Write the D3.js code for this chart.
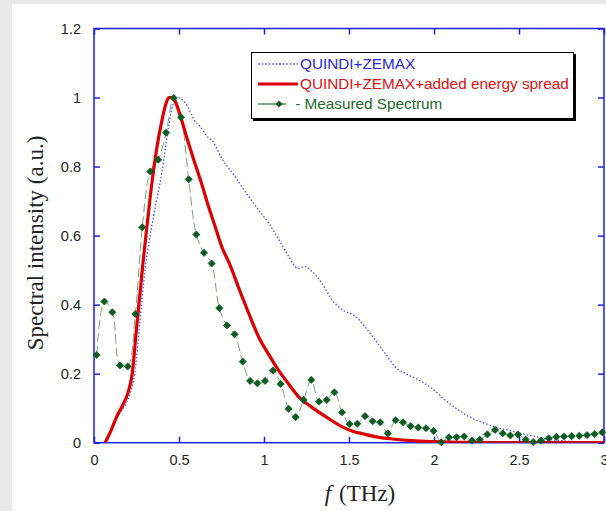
<!DOCTYPE html>
<html>
<head>
<meta charset="utf-8">
<script src="https://cdn.jsdelivr.net/npm/d3@7"></script>
<style>
  body { margin: 0; background: #e9e9e9; }
  svg { display: block; }
</style>
</head>
<body>
<svg id="chart" width="606" height="511"></svg>
<script>
// measured spectrum
const measuredF = [0.016, 0.061, 0.108, 0.153, 0.198, 0.243, 0.284, 0.331, 0.378, 0.424, 0.469, 0.512, 0.557, 0.602, 0.647, 0.692, 0.737, 0.782, 0.827, 0.875, 0.918, 0.961, 1.006, 1.053, 1.098, 1.145, 1.186, 1.233, 1.278, 1.324, 1.369, 1.414, 1.459, 1.504, 1.549, 1.594, 1.639, 1.684, 1.728, 1.774, 1.818, 1.863, 1.908, 1.953, 1.998, 2.043, 2.088, 2.133, 2.178, 2.224, 2.269, 2.314, 2.359, 2.404, 2.449, 2.494, 2.539, 2.584, 2.629, 2.675, 2.72, 2.765, 2.81, 2.855, 2.9, 2.945, 2.99];
const measuredI = [0.254, 0.409, 0.378, 0.224, 0.221, 0.373, 0.624, 0.786, 0.820, 0.898, 0.999, 0.943, 0.763, 0.603, 0.550, 0.519, 0.390, 0.340, 0.314, 0.235, 0.179, 0.172, 0.179, 0.209, 0.170, 0.098, 0.074, 0.124, 0.182, 0.119, 0.124, 0.146, 0.088, 0.054, 0.055, 0.077, 0.062, 0.059, 0.027, 0.065, 0.059, 0.048, 0.044, 0.042, 0.034, 0.001, 0.016, 0.016, 0.018, 0.006, 0.009, 0.024, 0.037, 0.027, 0.021, 0.024, 0.009, 0.002, 0.006, 0.013, 0.017, 0.018, 0.019, 0.020, 0.022, 0.025, 0.030];

// QUINDI+ZEMAX simulation
const quindiF = [0.07, 0.133, 0.21, 0.24, 0.27, 0.30, 0.35, 0.40, 0.437, 0.465, 0.496, 0.535, 0.565, 0.59, 0.624, 0.67, 0.70, 0.75, 0.83, 0.91, 0.97, 1.025, 1.085, 1.145, 1.2, 1.24, 1.28, 1.34, 1.40, 1.46, 1.535, 1.594, 1.653, 1.712, 1.771, 1.83, 1.908, 1.986, 2.065, 2.143, 2.222, 2.3, 2.378, 2.457, 2.535, 2.614, 2.673, 2.751, 2.85, 3.0];
const quindiI = [0, 0.07, 0.14, 0.2, 0.35, 0.5, 0.655, 0.785, 0.91, 0.98, 1.0, 0.985, 0.96, 0.935, 0.916, 0.885, 0.872, 0.825, 0.771, 0.713, 0.674, 0.638, 0.59, 0.54, 0.505, 0.51, 0.497, 0.462, 0.414, 0.385, 0.367, 0.336, 0.298, 0.259, 0.22, 0.201, 0.182, 0.158, 0.124, 0.095, 0.071, 0.056, 0.043, 0.034, 0.024, 0.016, 0.01, 0.006, 0.003, 0.002];

// QUINDI+ZEMAX+added energy spread
const spreadF = [0.065, 0.10, 0.133, 0.17, 0.20, 0.225, 0.25, 0.27, 0.29, 0.31, 0.34, 0.37, 0.40, 0.425, 0.44, 0.465, 0.485, 0.506, 0.545, 0.59, 0.63, 0.67, 0.71, 0.75, 0.80, 0.85, 0.91, 0.97, 1.025, 1.085, 1.145, 1.2, 1.28, 1.38, 1.46, 1.53, 1.58, 1.67, 1.77, 1.87, 2.0, 2.3, 3.0];
const spreadI = [0, 0.035, 0.075, 0.11, 0.145, 0.2, 0.33, 0.43, 0.53, 0.62, 0.75, 0.855, 0.935, 0.985, 1.0, 1.0, 0.98, 0.95, 0.885, 0.815, 0.755, 0.69, 0.63, 0.57, 0.515, 0.45, 0.375, 0.305, 0.258, 0.21, 0.17, 0.135, 0.103, 0.07, 0.046, 0.032, 0.026, 0.016, 0.01, 0.006, 0.003, 0, 0];

const xTicks = [0, 0.5, 1, 1.5, 2, 2.5, 3];
const yTicks = [0, 0.2, 0.4, 0.6, 0.8, 1, 1.2];
const legendLabels = ["QUINDI+ZEMAX", "QUINDI+ZEMAX+added energy spread", " - Measured Spectrum"];

const axisColor = "#1f1fe6";
const margin = { top: 28.5, right: 2, bottom: 68.3, left: 94 };
const width = 606 - margin.left - margin.right;
const height = 511 - margin.top - margin.bottom;

const root = d3.select("#chart");

// page background: grey strip on the left and top
root.append("rect").attr("width", 606).attr("height", 511).attr("fill", "#e9e9e9");
root.append("rect").attr("x", 12).attr("y", 4).attr("width", 594).attr("height", 507).attr("fill", "#ffffff");

const svg = root.append("g")
  .attr("transform", "translate(" + margin.left + "," + margin.top + ")");

const x = d3.scaleLinear().domain([0, 3]).range([0, width]);
const y = d3.scaleLinear().domain([0, 1.2]).range([height, 0]);

svg.append("clipPath").attr("id", "plot-clip")
  .append("rect").attr("x", 0).attr("y", -2).attr("width", width).attr("height", height + 2);

// axes with inward ticks
const styleAxis = g => {
  g.select(".domain").remove();
  g.selectAll(".tick line").attr("stroke", axisColor).attr("stroke-width", 1.5);
  g.selectAll(".tick text")
    .attr("fill", "#222")
    .style("font-family", "'Liberation Sans', Arial, sans-serif")
    .style("font-size", "14.5px");
};

svg.append("g")
  .attr("transform", "translate(0," + height + ")")
  .call(d3.axisBottom(x).tickValues(xTicks).tickFormat(d3.format("")).tickSize(-6).tickPadding(12))
  .call(styleAxis);

svg.append("g")
  .call(d3.axisTop(x).tickValues(xTicks).tickFormat("").tickSize(-6))
  .call(styleAxis);

svg.append("g")
  .call(d3.axisLeft(y).tickValues(yTicks).tickFormat(d3.format("")).tickSize(-6).tickPadding(13))
  .call(styleAxis);

svg.append("g")
  .attr("transform", "translate(" + width + ",0)")
  .call(d3.axisRight(y).tickValues(yTicks).tickFormat("").tickSize(-6))
  .call(styleAxis);

// frame
svg.append("rect")
  .attr("width", width).attr("height", height)
  .attr("fill", "none").attr("stroke", axisColor).attr("stroke-width", 1.5);

const plot = svg.append("g").attr("clip-path", "url(#plot-clip)");

// QUINDI+ZEMAX (dotted blue)
plot.append("path")
  .datum(d3.zip(quindiF, quindiI))
  .attr("fill", "none")
  .attr("stroke", "#4b4bf0")
  .attr("stroke-width", 1.3)
  .attr("stroke-dasharray", "1.5,2")
  .attr("d", d3.line().x(d => x(d[0])).y(d => y(d[1])).curve(d3.curveMonotoneX));

// measured spectrum (dashed green spline)
plot.append("path")
  .datum(d3.zip(measuredF, measuredI))
  .attr("fill", "none")
  .attr("stroke", "#7aa27c")
  .attr("stroke-width", 1)
  .attr("stroke-dasharray", "9,4")
  .attr("d", d3.line().x(d => x(d[0])).y(d => y(d[1])).curve(d3.curveCatmullRom.alpha(0.5)));

// with energy spread (thick red)
plot.append("path")
  .datum(d3.zip(spreadF, spreadI))
  .attr("fill", "none")
  .attr("stroke", "#dd0000")
  .attr("stroke-width", 3.2)
  .attr("stroke-linejoin", "round")
  .attr("d", d3.line().x(d => x(d[0])).y(d => y(d[1])).curve(d3.curveMonotoneX));

const diamond = d3.symbol().type(d3.symbolDiamond2).size(32);

svg.append("g")
  .selectAll("path")
  .data(d3.zip(measuredF, measuredI))
  .enter()
  .append("path")
  .attr("transform", d => "translate(" + x(d[0]) + "," + y(d[1]) + ")")
  .attr("d", diamond)
  .attr("fill", "#0b5c1f")
  .attr("stroke", "#0b5c1f")
  .attr("stroke-width", 0.8);

// legend
const legend = root.append("g");
legend.append("rect")
  .attr("x", 253).attr("y", 54).attr("width", 323).attr("height", 67)
  .attr("fill", "#000");
legend.append("rect")
  .attr("x", 251.5).attr("y", 52.5).attr("width", 322).attr("height", 66)
  .attr("fill", "#fff").attr("stroke", "#000").attr("stroke-width", 1);

const legendColors = ["#2a2ad4", "#dd1111", "#1d6a2c"];
const rowY = [64, 84, 104];

legend.append("line")
  .attr("x1", 258).attr("x2", 298).attr("y1", rowY[0]).attr("y2", rowY[0])
  .attr("stroke", "#2a2ad4").attr("stroke-width", 1.2).attr("stroke-dasharray", "2,1.5");
legend.append("line")
  .attr("x1", 258).attr("x2", 298).attr("y1", rowY[1]).attr("y2", rowY[1])
  .attr("stroke", "#dd0000").attr("stroke-width", 3);
legend.append("line")
  .attr("x1", 258).attr("x2", 286).attr("y1", rowY[2]).attr("y2", rowY[2])
  .attr("stroke", "#1d6a2c").attr("stroke-width", 1.2);
legend.append("path")
  .attr("transform", "translate(279," + rowY[2] + ")")
  .attr("d", diamond)
  .attr("fill", "#0b5c1f");

legend.selectAll("text")
  .data(legendLabels)
  .enter()
  .append("text")
  .attr("x", (d, i) => i === 2 ? 291 : 300)
  .attr("y", (d, i) => rowY[i] + 5.3)
  .attr("fill", (d, i) => legendColors[i])
  .style("font-family", "'Liberation Sans', Arial, sans-serif")
  .style("font-size", "15.3px")
  .style("white-space", "pre")
  .text(d => d);

// axis titles
root.append("text")
  .attr("transform", "translate(43,243) rotate(-90)")
  .attr("text-anchor", "middle")
  .attr("fill", "#222")
  .style("font-family", "'Liberation Serif', 'Times New Roman', serif")
  .style("font-size", "23px")
  .text("Spectral intensity (a.u.)");

const xTitle = root.append("text")
  .attr("x", 360).attr("y", 501)
  .attr("text-anchor", "middle")
  .attr("fill", "#222")
  .style("font-family", "'Liberation Serif', 'Times New Roman', serif")
  .style("font-size", "23px");
xTitle.append("tspan").style("font-style", "italic").text("f");
xTitle.append("tspan").attr("dx", 8).text("(THz)");
</script>
</body>
</html>
